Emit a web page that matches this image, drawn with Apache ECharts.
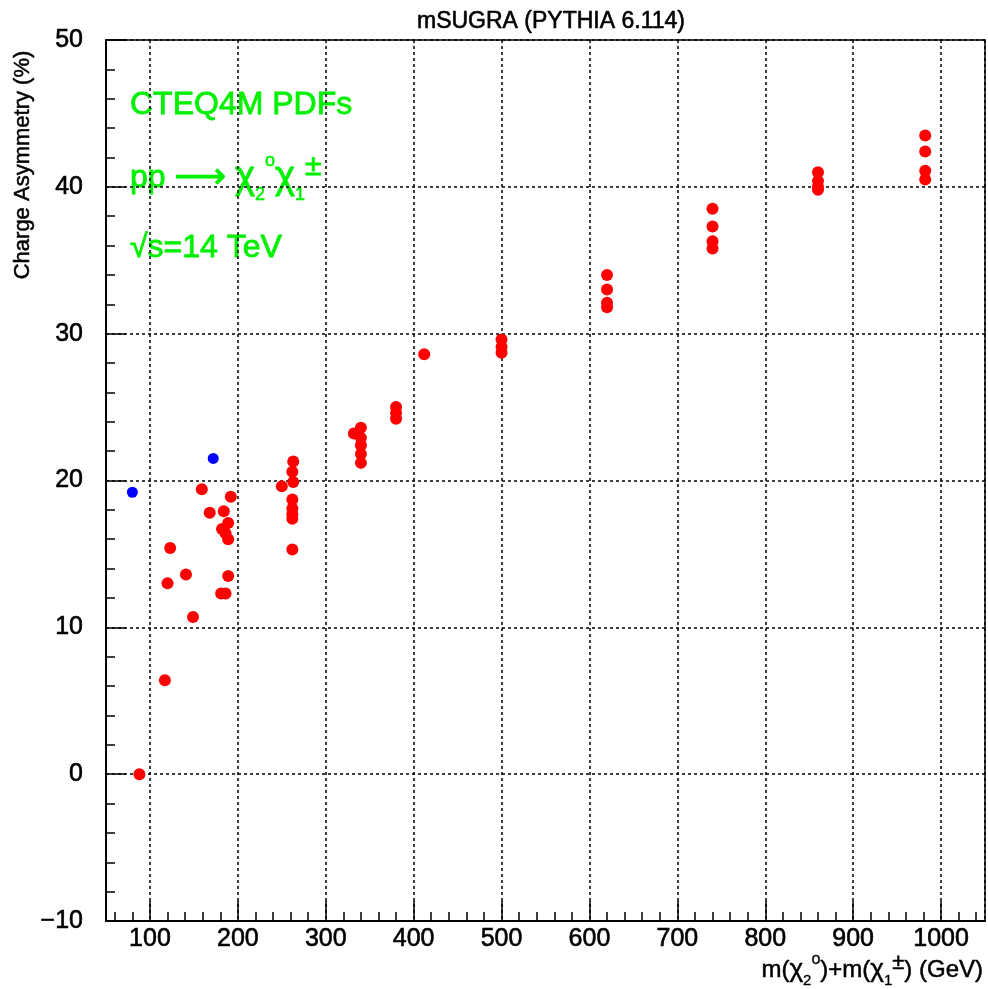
<!DOCTYPE html>
<html><head><meta charset="utf-8">
<script src="https://cdn.jsdelivr.net/npm/echarts@6/dist/echarts.min.js"></script>
<style>html,body{margin:0;padding:0;background:#fff}#c{width:988px;height:989px}</style>
</head><body><div id="c"></div>
<script>
// m(chi2^0)+m(chi1^+-) in GeV, and charge asymmetry in %
const redMass = [88, 117, 120, 123, 141, 149, 159, 168, 184, 192, 189, 182, 186, 189, 189, 181, 186,
  250, 263, 262, 263, 262, 262, 262, 262, 262,
  332, 340, 340, 340, 340, 340,
  380, 380, 380, 412,
  500, 500, 500,
  620, 620, 620, 620,
  740, 740, 740, 740,
  860, 860, 860, 860,
  982, 982, 982, 982];
const redAsym = [0.0, 6.4, 13.0, 15.4, 13.6, 10.7, 19.4, 17.8, 17.9, 18.9, 17.1, 16.7, 16.4, 16.0, 13.5, 12.3, 12.3,
  19.6, 21.3, 20.6, 19.9, 18.7, 18.1, 17.7, 17.4, 15.3,
  23.2, 23.6, 22.9, 22.4, 21.8, 21.2,
  25.0, 24.6, 24.2, 28.6,
  29.6, 29.1, 28.7,
  34.0, 33.0, 32.1, 31.8,
  38.5, 37.3, 36.3, 35.8,
  41.0, 40.4, 40.0, 39.8,
  43.5, 42.4, 41.1, 40.5];
const blueMass = [80, 172];
const blueAsym = [19.2, 21.5];
const xMajorTicks = [100, 200, 300, 400, 500, 600, 700, 800, 900, 1000];
const xMinorTicks = [60, 80, 120, 140, 160, 180, 220, 240, 260, 280, 320, 340, 360, 380, 420, 440, 460, 480,
  520, 540, 560, 580, 620, 640, 660, 680, 720, 740, 760, 780, 820, 840, 860, 880, 920, 940, 960, 980, 1020, 1040];
const yMajorTicks = [-10, 0, 10, 20, 30, 40, 50];
const yMinorTicks = [-8, -6, -4, -2, 2, 4, 6, 8, 12, 14, 16, 18, 22, 24, 26, 28, 32, 34, 36, 38, 42, 44, 46, 48];
const titleText = 'mSUGRA (PYTHIA 6.114)';
const yName = 'Charge Asymmetry (%)';

const chart = echarts.init(document.getElementById('c'), null, {renderer: 'canvas'});
const FONT = 'Liberation Sans, Arial, Helvetica, sans-serif';
const FONT2 = 'Liberation Sans, DejaVu Sans, sans-serif';
const GREEN = '#00f000';
const dotted = {color: '#000', width: 1.5, type: [3, 3]};
const tickLine = {color: '#000', width: 1.5};

function tickAxis(values, len, pos) {
  return {
    type: 'value', position: pos,
    axisLine: {show: false, onZero: false},
    axisTick: {show: true, inside: true, length: len, customValues: values, lineStyle: tickLine},
    axisLabel: {show: false},
    splitLine: {show: false}
  };
}
function tok(family, size, color, lh, va, lw) {
  return {fontFamily: family, fontSize: size, fill: color, stroke: color, lineWidth: lw, lineHeight: lh, verticalAlign: va};
}

chart.setOption({
  animation: false,
  backgroundColor: '#fff',
  title: {
    text: titleText, left: 546, top: 5, textAlign: 'center',
    textStyle: {fontFamily: FONT, fontSize: 23, fontWeight: 'normal', color: '#000',
      textBorderColor: '#000', textBorderWidth: 0.6}
  },
  grid: {
    left: 106, top: 40, right: 3, bottom: 68, containLabel: false, outerBoundsMode: 'none',
    show: true, borderColor: '#000', borderWidth: 1.5, backgroundColor: 'transparent'
  },
  xAxis: [{
    type: 'value', min: 50, max: 1050, splitNumber: 10, position: 'bottom',
    axisLine: {show: true, onZero: false, lineStyle: {color: '#000', width: 2}},
    axisTick: {show: false},
    minorTick: {show: false},
    axisLabel: {show: true, showMinLabel: false, showMaxLabel: false, margin: 6,
      fontFamily: FONT, fontSize: 25, color: '#000', textBorderColor: '#000', textBorderWidth: 0.6,
      formatter: v => String(v)},
    splitLine: {show: true, lineStyle: dotted}
  },
    Object.assign(tickAxis(xMajorTicks, 20, 'bottom'), {min: 50, max: 1050}),
    Object.assign(tickAxis(xMinorTicks, 9, 'bottom'), {min: 50, max: 1050})
  ],
  yAxis: [{
    type: 'value', min: -10, max: 50, interval: 10, position: 'left',
    axisLine: {show: true, onZero: false, lineStyle: {color: '#000', width: 2}},
    axisTick: {show: false},
    minorTick: {show: false},
    axisLabel: {margin: 23, fontFamily: FONT, fontSize: 25, color: '#000',
      textBorderColor: '#000', textBorderWidth: 0.6,
      formatter: v => String(v).replace('-', '\u2212')},
    splitLine: {show: true, lineStyle: dotted}
  },
    Object.assign(tickAxis(yMajorTicks, 20, 'left'), {min: -10, max: 50}),
    Object.assign(tickAxis(yMinorTicks, 9, 'left'), {min: -10, max: 50})
  ],
  graphic: [
    {type: 'text', x: 23, y: 165, rotation: Math.PI / 2,
      style: {text: yName, font: '22px ' + FONT, fill: '#000', stroke: '#000', lineWidth: 0.5,
        align: 'center', verticalAlign: 'middle'}},
    {type: 'text', x: 983, y: 970,
      style: {text: '{n|m(}{x|χ}{s|2}{p|o}{n|)+m(}{x|χ}{s|1}{q|±}{n|) (GeV)}', align: 'right', verticalAlign: 'middle',
        fill: '#000', font: '24px ' + FONT,
        rich: {
          n: tok(FONT, 24, '#000', 30, 'middle', 0.5),
          x: tok(FONT, 26, '#000', 30, 'middle', 0.5),
          s: tok(FONT, 15, '#000', 30, 'bottom', 0.3),
          p: tok(FONT, 16, '#000', 32, 'top', 0.3),
          q: tok(FONT, 22, '#000', 36, 'top', 0.5)
        }}},
    {type: 'text', x: 130, y: 105,
      style: {text: 'CTEQ4M PDFs', font: '32px ' + FONT, fill: GREEN, stroke: GREEN, lineWidth: 0.8,
        align: 'left', verticalAlign: 'middle'}},
    {type: 'text', x: 130, y: 178,
      style: {text: '{n|pp }{a|⟶}{n| }{x|χ}{s|2}{p|o}{x|χ}{s|1}{q|±}', align: 'left', verticalAlign: 'middle',
        fill: GREEN, font: '32px ' + FONT,
        rich: {
          n: tok(FONT2, 32, GREEN, 40, 'middle', 0.8),
          a: tok(FONT2, 36, GREEN, 40, 'middle', 0.8),
          x: tok(FONT2, 38, GREEN, 40, 'middle', 0.8),
          s: tok(FONT, 18, GREEN, 40, 'bottom', 0.5),
          p: tok(FONT, 18, GREEN, 36, 'top', 0.5),
          q: tok(FONT, 30, GREEN, 52, 'top', 0.8)
        }}},
    {type: 'text', x: 130, y: 248,
      style: {text: '√s=14 TeV', font: '32px ' + FONT2, fill: GREEN, stroke: GREEN, lineWidth: 0.8,
        align: 'left', verticalAlign: 'middle'}}
  ],
  series: [{
    type: 'scatter', name: 'red', xAxisIndex: 0, yAxisIndex: 0, symbol: 'circle', symbolSize: 12,
    itemStyle: {color: '#ff0000', opacity: 1},
    data: redMass.map((m, i) => [m, redAsym[i]])
  }, {
    type: 'scatter', name: 'blue', xAxisIndex: 0, yAxisIndex: 0, symbol: 'circle', symbolSize: 11,
    itemStyle: {color: '#0000ff', opacity: 1},
    data: blueMass.map((m, i) => [m, blueAsym[i]])
  }]
});
</script>
</body></html>
